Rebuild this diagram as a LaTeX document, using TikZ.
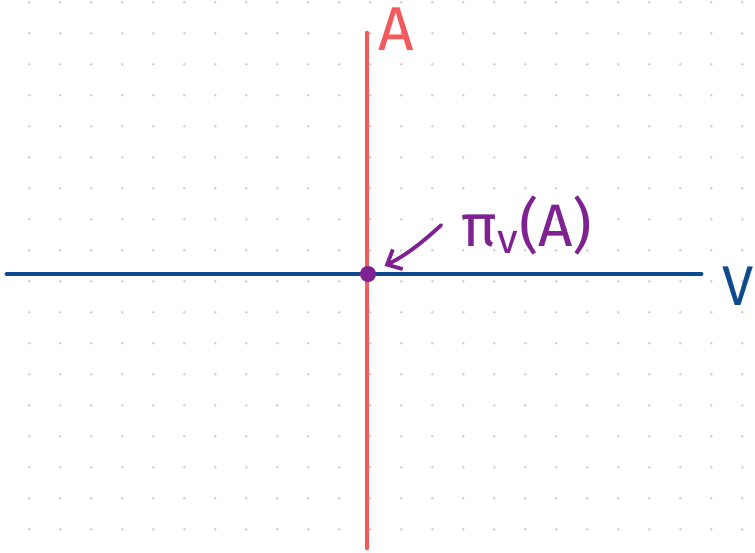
\documentclass[tikz,border=0pt]{standalone}
\usepackage{fontspec}
\setmainfont{Fira Sans}
\usetikzlibrary{arrows.meta}
\definecolor{axisred}{HTML}{F25B5B}
\definecolor{axisblue}{HTML}{0E4A8F}
\definecolor{projpurple}{HTML}{7E2291}
\definecolor{dotgray}{HTML}{D0D0D0}

\begin{document}
\begin{tikzpicture}[x=0.5pt, y=-0.5pt,
    axis/.style={line width=2.4pt, line cap=round},
    lbl/.style={inner sep=0pt},
    arr/.style={-{Straight Barb[length=6pt, width=11pt]}, line width=1.9pt, line cap=round, projpurple}
  ]
  \useasboundingbox (0,0) rectangle (755,552);

  % dot grid
  \foreach \i in {0,...,23}
    \foreach \j in {0,...,17}
      \fill[dotgray] (29.3+31*\i, 2.3+31*\j) circle (1.4);

  % axes
  \coordinate (Atop) at (367,33);
  \coordinate (Abot) at (367,548);
  \coordinate (Vleft) at (7,274);
  \coordinate (Vright) at (701,274);
  \draw[axis, axisred] (Atop) -- (Abot);
  \draw[axis, axisblue] (Vleft) -- (Vright);

  % labels
  \node[lbl, text=axisred, font=\fontsize{31}{33}\selectfont] (A) at (396,29) {A};
  \node[lbl, text=axisblue, font=\fontsize{28}{30}\selectfont] (V) at (738,286) {V};
  \node[lbl, text=projpurple, font=\fontsize{30}{32}\selectfont] (proj) at (527,225) {π\textsubscript{v}(A)};

  % projection point
  \node[circle, fill=projpurple, minimum size=8pt, inner sep=0pt] (pt) at (368,274) {};
  \draw[arr, shorten >=5pt] ([xshift=-10pt]proj.west) to[bend left=8] (pt);
\end{tikzpicture}
\end{document}
